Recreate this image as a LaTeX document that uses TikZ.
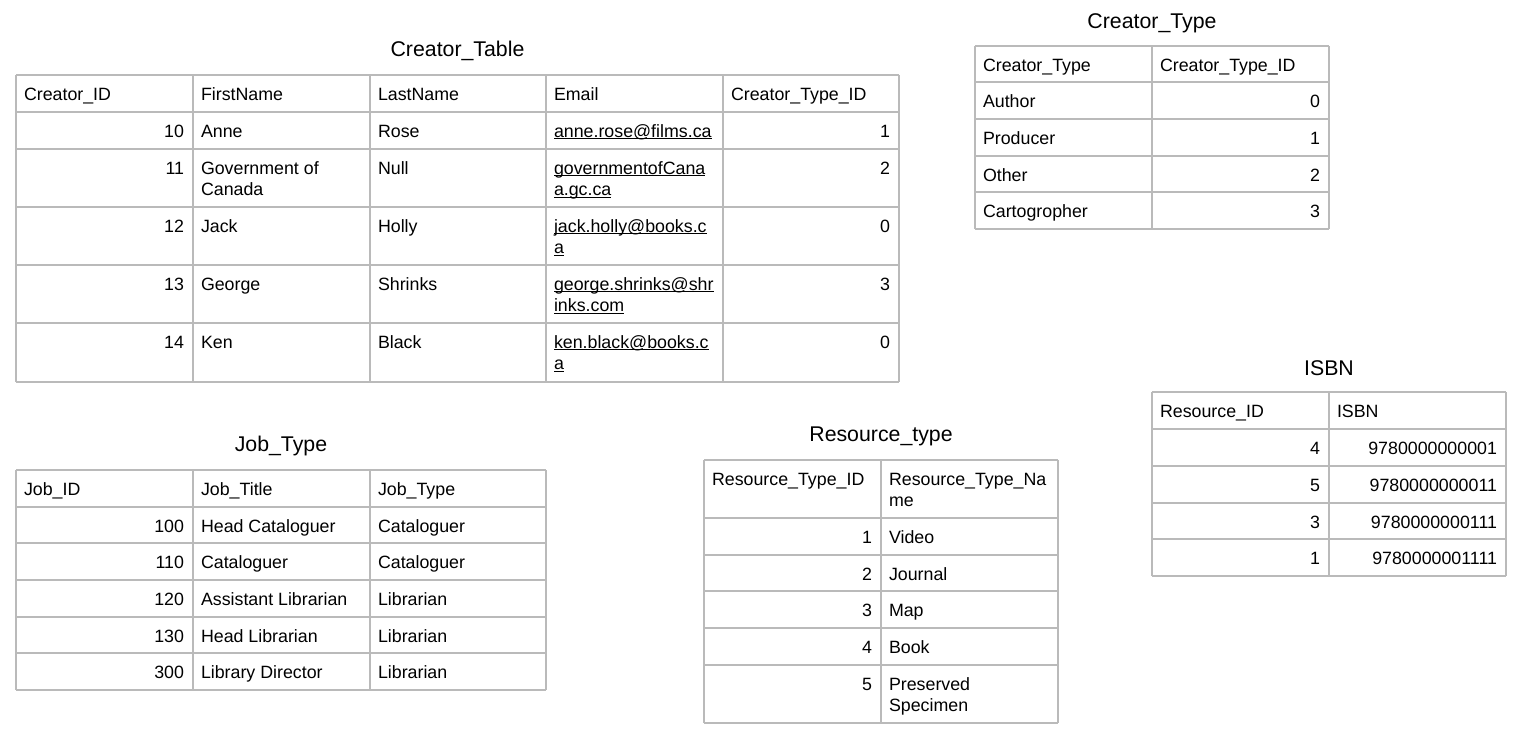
\documentclass[tikz,border=0pt]{standalone}
\usepackage{fontspec}
\setmainfont{Liberation Sans}
\newcounter{cellno}
\newcommand{\emul}[1]{\setbox0=\hbox{#1}\rlap{\rule[-2.2pt]{\wd0}{1.1pt}}\box0}
\newcommand{\cellL}[3]{\stepcounter{cellno}\node[celltext,anchor=north west] (c\thecellno) at (#1+8,#2+10) {\strut #3};}
\newcommand{\cellR}[3]{\stepcounter{cellno}\node[celltext,anchor=north east] (c\thecellno) at (#1-9,#2+10) {\strut #3};}
\tikzset{
  gridline/.style={draw=black!27,line width=1.1pt,line cap=square},
  celltext/.style={inner sep=0pt,outer sep=0pt,align=left,font=\fontsize{17.8}{21.5}\selectfont},
  tabtitle/.style={inner sep=0pt,anchor=base,font=\fontsize{21.3}{25}\selectfont}
}
\begin{document}
\begin{tikzpicture}[x=1pt,y=-1pt]
\useasboundingbox (0,0) rectangle (1518,734);
\fill[white] (0,0) rectangle (1518,734);

% ---------------- Creator_Table
\node[tabtitle] (t1) at (457.5,56) {Creator\_Table};
\foreach \x in {16,193,370,546,723,899} \draw[gridline] (\x,75) -- (\x,382);
\foreach \y in {75,112,149,207,265,323,382} \draw[gridline] (16,\y) -- (899,\y);
\cellL{16}{75}{Creator\_ID}
\cellL{193}{75}{FirstName}
\cellL{370}{75}{LastName}
\cellL{546}{75}{Email}
\cellL{723}{75}{Creator\_Type\_ID}
\cellR{193}{112}{10}
\cellL{193}{112}{Anne}
\cellL{370}{112}{Rose}
\cellL{546}{112}{\emul{anne.rose@films.ca}}
\cellR{899}{112}{1}
\cellR{193}{149}{11}
\cellL{193}{149}{Government of\\Canada}
\cellL{370}{149}{Null}
\cellL{546}{149}{\emul{governmentofCana}\\\emul{a.gc.ca}}
\cellR{899}{149}{2}
\cellR{193}{207}{12}
\cellL{193}{207}{Jack}
\cellL{370}{207}{Holly}
\cellL{546}{207}{\emul{jack.holly@books.c}\\\emul{a}}
\cellR{899}{207}{0}
\cellR{193}{265}{13}
\cellL{193}{265}{George}
\cellL{370}{265}{Shrinks}
\cellL{546}{265}{\emul{george.shrinks@shr}\\\emul{inks.com}}
\cellR{899}{265}{3}
\cellR{193}{323}{14}
\cellL{193}{323}{Ken}
\cellL{370}{323}{Black}
\cellL{546}{323}{\emul{ken.black@books.c}\\\emul{a}}
\cellR{899}{323}{0}

% ---------------- Creator_Type
\node[tabtitle] (t2) at (1152,28.3) {Creator\_Type};
\foreach \x in {975,1152,1329} \draw[gridline] (\x,46) -- (\x,229);
\foreach \y in {46,82,119,156,192,229} \draw[gridline] (975,\y) -- (1329,\y);
\cellL{975}{46}{Creator\_Type}
\cellL{1152}{46}{Creator\_Type\_ID}
\cellL{975}{82}{Author}
\cellR{1329}{82}{0}
\cellL{975}{119}{Producer}
\cellR{1329}{119}{1}
\cellL{975}{156}{Other}
\cellR{1329}{156}{2}
\cellL{975}{192}{Cartogropher}
\cellR{1329}{192}{3}

% ---------------- Job_Type
\node[tabtitle] (t3) at (281,451.7) {Job\_Type};
\foreach \x in {16,193,370,546} \draw[gridline] (\x,470) -- (\x,690);
\foreach \y in {470,507,543,580,617,653,690} \draw[gridline] (16,\y) -- (546,\y);
\cellL{16}{470}{Job\_ID}
\cellL{193}{470}{Job\_Title}
\cellL{370}{470}{Job\_Type}
\cellR{193}{507}{100}
\cellL{193}{507}{Head Cataloguer}
\cellL{370}{507}{Cataloguer}
\cellR{193}{543}{110}
\cellL{193}{543}{Cataloguer}
\cellL{370}{543}{Cataloguer}
\cellR{193}{580}{120}
\cellL{193}{580}{Assistant Librarian}
\cellL{370}{580}{Librarian}
\cellR{193}{617}{130}
\cellL{193}{617}{Head Librarian}
\cellL{370}{617}{Librarian}
\cellR{193}{653}{300}
\cellL{193}{653}{Library Director}
\cellL{370}{653}{Librarian}

% ---------------- Resource_type
\node[tabtitle] (t4) at (881,441) {Resource\_type};
\foreach \x in {704,881,1058} \draw[gridline] (\x,460) -- (\x,723);
\foreach \y in {460,518,555,591,628,665,723} \draw[gridline] (704,\y) -- (1058,\y);
\cellL{704}{460}{Resource\_Type\_ID}
\cellL{881}{460}{Resource\_Type\_Na\\me}
\cellR{881}{518}{1}
\cellL{881}{518}{Video}
\cellR{881}{555}{2}
\cellL{881}{555}{Journal}
\cellR{881}{591}{3}
\cellL{881}{591}{Map}
\cellR{881}{628}{4}
\cellL{881}{628}{Book}
\cellR{881}{665}{5}
\cellL{881}{665}{Preserved\\Specimen}

% ---------------- ISBN
\node[tabtitle] (t5) at (1329,375) {ISBN};
\foreach \x in {1152,1329,1506} \draw[gridline] (\x,392) -- (\x,576);
\foreach \y in {392,429,466,503,539,576} \draw[gridline] (1152,\y) -- (1506,\y);
\cellL{1152}{392}{Resource\_ID}
\cellL{1329}{392}{ISBN}
\cellR{1329}{429}{4}
\cellR{1506}{429}{9780000000001}
\cellR{1329}{466}{5}
\cellR{1506}{466}{9780000000011}
\cellR{1329}{503}{3}
\cellR{1506}{503}{9780000000111}
\cellR{1329}{539}{1}
\cellR{1506}{539}{9780000001111}
\end{tikzpicture}
\end{document}
